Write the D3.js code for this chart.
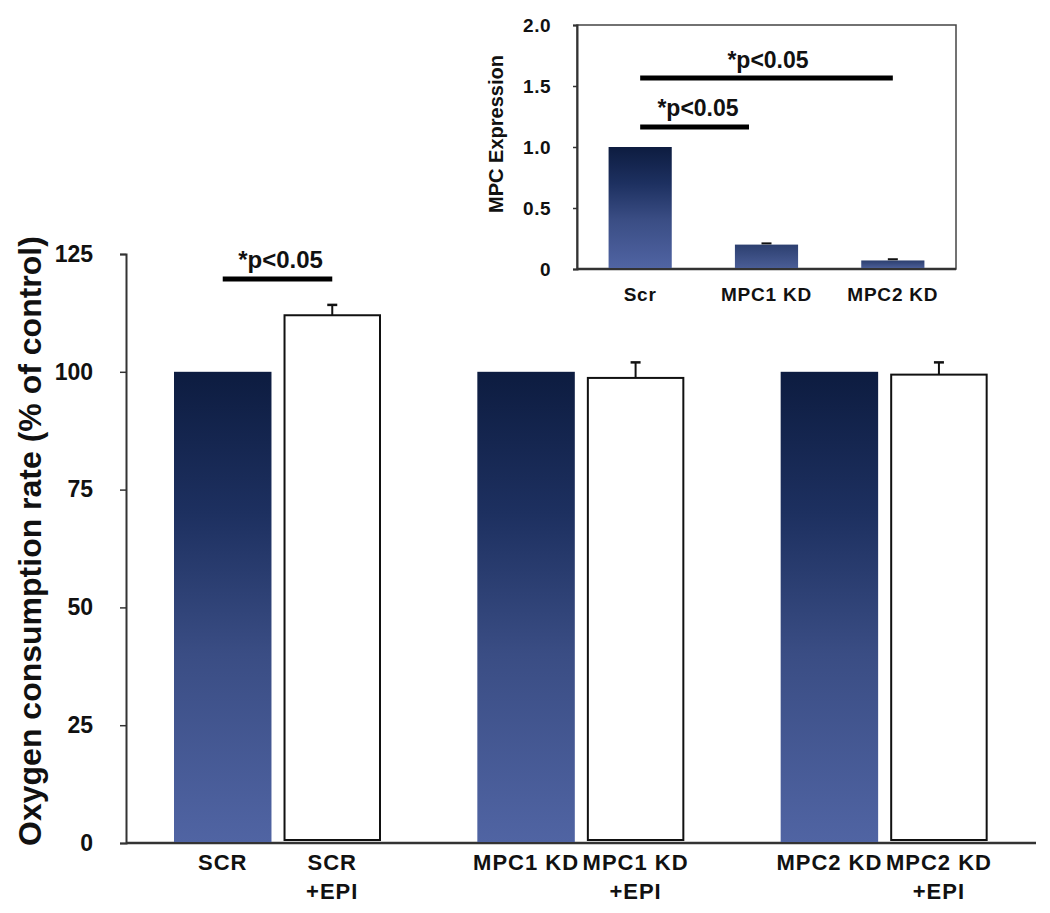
<!DOCTYPE html>
<html>
<head>
<meta charset="utf-8">
<script src="https://cdn.jsdelivr.net/npm/d3@7"></script>
<style>
  body { margin: 0; background: #fff; }
  text { font-family: "Liberation Sans", Arial, sans-serif; font-weight: bold; fill: #111; }
</style>
</head>
<body>
<div id="chart"></div>
<script>
"use strict";
// main panel
const groups = ["SCR", "MPC1 KD", "MPC2 KD"];
const conditions = ["ctrl", "epi"];
const ocrCtrl = [100, 100, 100];
const ocrEpi = [112, 98.7, 99.4];
const ocrEpiErr = [2.2, 3.3, 2.6];
const yTicks = [0, 25, 50, 75, 100, 125];
// inset
const insetCats = ["Scr", "MPC1 KD", "MPC2 KD"];
const mpcExpr = [1.0, 0.2, 0.07];
const mpcErr = [0, 0.01, 0.01];
const insetTicks = [0, 0.5, 1.0, 1.5, 2.0];

const svgWidth = 1050;
const svgHeight = 913;
const svg = d3.select("#chart").append("svg")
    .attr("width", svgWidth)
    .attr("height", svgHeight);

const defs = svg.append("defs");
const gradBig = defs.append("linearGradient").attr("id", "gradBig")
    .attr("x1", 0).attr("y1", 0).attr("x2", 0).attr("y2", 1);
gradBig.append("stop").attr("offset", "0%").attr("stop-color", "#0d1c40");
gradBig.append("stop").attr("offset", "30%").attr("stop-color", "#1d3060");
gradBig.append("stop").attr("offset", "60%").attr("stop-color", "#3a4d84");
gradBig.append("stop").attr("offset", "100%").attr("stop-color", "#5064a3");
const gradSmall = defs.append("linearGradient").attr("id", "gradSmall")
    .attr("x1", 0).attr("y1", 0).attr("x2", 0).attr("y2", 1);
gradSmall.append("stop").attr("offset", "0%").attr("stop-color", "#2c3f6f");
gradSmall.append("stop").attr("offset", "100%").attr("stop-color", "#4a5d96");

// ---- main chart ----
const mLeft = 126, mRight = 1036, mTop = 254, mBottom = 843;
const x0 = d3.scaleBand().domain(groups).range([mLeft, mRight]);
const x1 = d3.scaleBand().domain(conditions).range([48, 255])
    .paddingInner(0.11).paddingOuter(0);
const y = d3.scaleLinear().domain([0, 125]).range([mBottom, mTop]);

const yAxis = svg.append("g")
    .attr("transform", `translate(${mLeft},0)`)
    .call(d3.axisLeft(y).tickValues(yTicks).tickSize(6).tickPadding(27))
    .attr("font-size", 23);
yAxis.select(".domain").attr("stroke", "#333").attr("stroke-width", 2);
yAxis.selectAll(".tick line").attr("stroke", "#333").attr("stroke-width", 1.5);
yAxis.selectAll(".tick text").attr("fill", "#111");

svg.append("line")
    .attr("x1", mLeft).attr("x2", mRight)
    .attr("y1", y(0)).attr("y2", y(0))
    .attr("stroke", "#333").attr("stroke-width", 2.5);

const rows = groups.map((g, i) => ({ g, ctrl: ocrCtrl[i], epi: ocrEpi[i], err: ocrEpiErr[i] }));
const grp = svg.selectAll(".grp").data(rows).enter().append("g")
    .attr("transform", d => `translate(${x0(d.g)},0)`);

grp.append("rect")
    .attr("x", x1("ctrl")).attr("width", x1.bandwidth())
    .attr("y", d => y(d.ctrl)).attr("height", d => y(0) - y(d.ctrl) - 1)
    .attr("fill", "url(#gradBig)");
grp.append("line")
    .attr("x1", x1("epi") + x1.bandwidth() / 2).attr("x2", x1("epi") + x1.bandwidth() / 2)
    .attr("y1", d => y(d.epi)).attr("y2", d => y(d.epi + d.err))
    .attr("stroke", "#111").attr("stroke-width", 2);
grp.append("line")
    .attr("x1", x1("epi") + x1.bandwidth() / 2 - 5).attr("x2", x1("epi") + x1.bandwidth() / 2 + 5)
    .attr("y1", d => y(d.epi + d.err)).attr("y2", d => y(d.epi + d.err))
    .attr("stroke", "#111").attr("stroke-width", 2.5);
grp.append("rect")
    .attr("x", x1("epi") + 1).attr("width", x1.bandwidth() - 2)
    .attr("y", d => y(d.epi)).attr("height", d => y(0) - y(d.epi) - 3)
    .attr("fill", "#fff").attr("stroke", "#111").attr("stroke-width", 2);

// x labels
const lab = grp.append("g").attr("font-size", 22).style("letter-spacing", "1px");
lab.append("text")
    .attr("x", x1("ctrl") + x1.bandwidth() / 2).attr("y", 870)
    .attr("text-anchor", "middle").text(d => d.g);
lab.append("text")
    .attr("x", x1("epi") + x1.bandwidth() / 2).attr("y", 870)
    .attr("text-anchor", "middle").text(d => d.g);
lab.append("text")
    .attr("x", x1("epi") + x1.bandwidth() / 2).attr("y", 899)
    .attr("text-anchor", "middle").text("+EPI");

// y label
svg.append("text")
    .attr("transform", "translate(41,541) rotate(-90)")
    .attr("text-anchor", "middle")
    .attr("font-size", 32)
    .text("Oxygen consumption rate (% of control)");

// significance SCR
const sx1 = x0("SCR") + x1("ctrl") + x1.bandwidth() / 2;
const sx2 = x0("SCR") + x1("epi") + x1.bandwidth() / 2;
svg.append("line").attr("x1", sx1).attr("x2", sx2).attr("y1", 279).attr("y2", 279)
    .attr("stroke", "#000").attr("stroke-width", 5);
svg.append("text").attr("x", (sx1 + sx2) / 2 + 3).attr("y", 268)
    .attr("text-anchor", "middle").attr("font-size", 24).text("*p<0.05");

// ---- inset ----
const iL = 577, iR = 956, iT = 25, iB = 269;
const ix = d3.scaleBand().domain(insetCats).range([iL, iR]).paddingInner(0.5).paddingOuter(0.25);
const iy = d3.scaleLinear().domain([0, 2.0]).range([iB, iT]);

svg.append("rect").attr("x", iL).attr("y", iT).attr("width", iR - iL).attr("height", iB - iT)
    .attr("fill", "none").attr("stroke", "#444").attr("stroke-width", 1.5);
const iAxis = svg.append("g").attr("transform", `translate(${iL},0)`)
    .call(d3.axisLeft(iy).tickValues(insetTicks).tickSize(4).tickPadding(22)
        .tickFormat(d => d === 0 ? "0" : d3.format(".1f")(d)))
    .attr("font-size", 19);
iAxis.select(".domain").attr("stroke", "#333").attr("stroke-width", 2);
iAxis.selectAll(".tick line").attr("stroke", "#333").attr("stroke-width", 1.5);
iAxis.selectAll(".tick text").style("letter-spacing", "0.5px").attr("fill", "#111");
svg.append("line").attr("x1", iL).attr("x2", iR).attr("y1", iB).attr("y2", iB)
    .attr("stroke", "#333").attr("stroke-width", 2.5);

const irows = insetCats.map((c, i) => ({ c, v: mpcExpr[i], e: mpcErr[i] }));
svg.selectAll(".ibar").data(irows).enter().append("rect")
    .attr("x", d => ix(d.c)).attr("width", ix.bandwidth())
    .attr("y", d => iy(d.v)).attr("height", d => iB - iy(d.v) - 1)
    .attr("fill", (d, i) => i === 0 ? "url(#gradBig)" : "url(#gradSmall)");
svg.selectAll(".ierr").data(irows.filter(d => d.e > 0)).enter().append("line")
    .attr("x1", d => ix(d.c) + ix.bandwidth() / 2 - 5).attr("x2", d => ix(d.c) + ix.bandwidth() / 2 + 5)
    .attr("y1", d => iy(d.v + d.e)).attr("y2", d => iy(d.v + d.e))
    .attr("stroke", "#111").attr("stroke-width", 2);
svg.selectAll(".ilab").data(irows).enter().append("text")
    .attr("x", d => ix(d.c) + ix.bandwidth() / 2).attr("y", 301)
    .attr("text-anchor", "middle").attr("font-size", 19).style("letter-spacing", "0.8px")
    .text(d => d.c);
svg.append("text")
    .attr("transform", "translate(503,134) rotate(-90)")
    .attr("text-anchor", "middle").attr("font-size", 20)
    .text("MPC Expression");

const cx = c => ix(c) + ix.bandwidth() / 2;
svg.append("line").attr("x1", cx("Scr")).attr("x2", cx("MPC2 KD")).attr("y1", 78).attr("y2", 78)
    .attr("stroke", "#000").attr("stroke-width", 5);
svg.append("text").attr("x", 768).attr("y", 68).attr("text-anchor", "middle")
    .attr("font-size", 23).text("*p<0.05");
svg.append("line").attr("x1", cx("Scr")).attr("x2", 749).attr("y1", 127).attr("y2", 127)
    .attr("stroke", "#000").attr("stroke-width", 5);
svg.append("text").attr("x", 698).attr("y", 116).attr("text-anchor", "middle")
    .attr("font-size", 23).text("*p<0.05");
</script>
</body>
</html>
